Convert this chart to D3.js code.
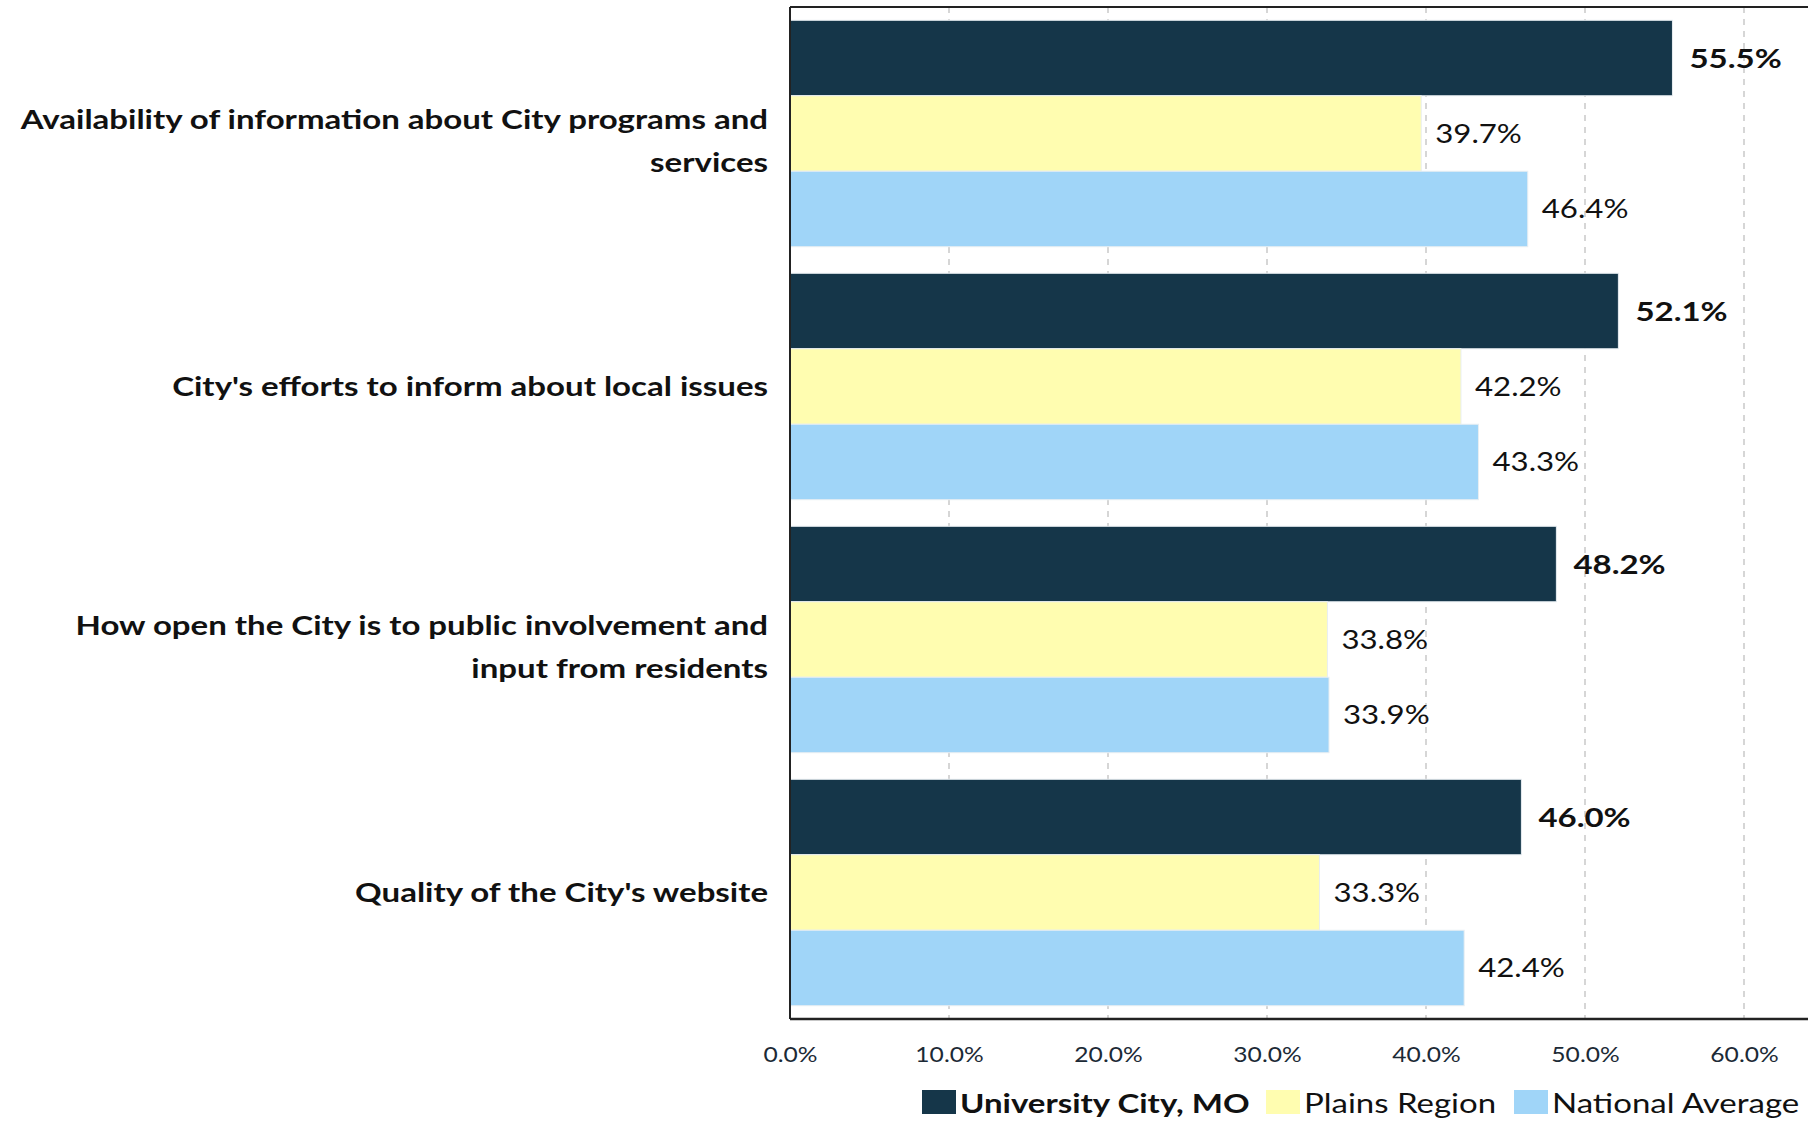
<!DOCTYPE html>
<html>
<head>
<meta charset="utf-8">
<script src="https://cdn.jsdelivr.net/npm/d3@7"></script>
<style>
  body { margin: 0; background: #fff; }
  svg { display: block; font-family: Lato, 'Open Sans', sans-serif; }
</style>
</head>
<body>
<script>
'use strict';

//chart values
var categories = [
  'Availability of information about City programs and services',
  "City's efforts to inform about local issues",
  'How open the City is to public involvement and input from residents',
  "Quality of the City's website"
];
//line breaks for the category labels
var categoryLines = [
  ['Availability of information about City programs and', 'services'],
  ["City's efforts to inform about local issues"],
  ['How open the City is to public involvement and', 'input from residents'],
  ["Quality of the City's website"]
];
var seriesNames = ['University City, MO', 'Plains Region', 'National Average'];
var universityCity = [55.5, 52.1, 48.2, 46.0];
var plainsRegion = [39.7, 42.2, 33.8, 33.3];
var nationalAverage = [46.4, 43.3, 33.9, 42.4];
var xTicks = [0, 10, 20, 30, 40, 50, 60];

var colors = ['#153649', '#FFFDB0', '#A0D5F8'];

var width = 1808;
var height = 1121;

var plot = {left: 790, top: 7, bottom: 1019, right: 1808};

//the original text is a bit wide, so every label gets stretched sideways
var stretch = 'scale(1.2,1)';

var series = [universityCity, plainsRegion, nationalAverage];

var svg = d3.select('body')
  .append('svg')
  .attr('width', width)
  .attr('height', height);

var x = d3.scaleLinear()
  .domain([0, 64])
  .range([plot.left, plot.left + 64 * 15.9]);

var y = d3.scaleBand()
  .domain(d3.range(categories.length))
  .range([plot.top, plot.bottom])
  .paddingInner(0.105)
  .paddingOuter(0.0525);

var ySub = d3.scaleBand()
  .domain(d3.range(series.length))
  .range([0, y.bandwidth()]);

//dashed gridlines
svg.append('g')
  .selectAll('line')
  .data(xTicks.slice(1))
  .enter()
  .append('line')
  .attr('x1', function(d) { return x(d); })
  .attr('x2', function(d) { return x(d); })
  .attr('y1', plot.top)
  .attr('y2', plot.bottom)
  .attr('stroke', '#c9c9c9')
  .attr('stroke-width', 1.5)
  .attr('stroke-dasharray', '6,6');

//bars, one group per category
var groups = svg.append('g')
  .selectAll('g')
  .data(categories)
  .enter()
  .append('g')
  .attr('transform', function(d, i) { return 'translate(0,' + y(i) + ')'; });

function rowValues(d, i) {
  return series.map(function(s, j) { return {s: j, v: s[i]}; });
}

groups.selectAll('rect')
  .data(rowValues)
  .enter()
  .append('rect')
  .attr('x', x(0))
  .attr('y', function(d) { return ySub(d.s); })
  .attr('width', function(d) { return x(d.v) - x(0); })
  .attr('height', ySub.bandwidth())
  .attr('fill', function(d) { return colors[d.s]; })
  .attr('stroke', '#e8eef2')
  .attr('stroke-width', 1);

//value labels, bold for the city itself
groups.selectAll('text')
  .data(rowValues)
  .enter()
  .append('text')
  .attr('transform', function(d) {
    var tx = x(d.v) + (d.s === 0 ? 17 : 14);
    var ty = ySub(d.s) + ySub.bandwidth() / 2;
    return 'translate(' + tx + ',' + ty + ')' + stretch;
  })
  .attr('dy', '0.35em')
  .style('font-size', function(d) { return d.s === 0 ? '27.5px' : '26px'; })
  .style('font-weight', function(d) { return d.s === 0 ? 'bold' : 'normal'; })
  .attr('fill', '#111')
  .text(function(d) { return d.v.toFixed(1) + '%'; });

//category labels
var lineGap = 43;
svg.append('g')
  .selectAll('text')
  .data(categoryLines)
  .enter()
  .append('text')
  .attr('text-anchor', 'end')
  .attr('transform', 'translate(' + (plot.left - 22) + ',0)' + stretch)
  .style('font-size', '27.5px')
  .style('font-weight', 'bold')
  .attr('fill', '#111')
  .each(function(lines, i) {
    var cy = y(i) + y.bandwidth() / 2;
    var start = cy - (lines.length - 1) * (lineGap / 2 - 7);
    d3.select(this).selectAll('tspan')
      .data(lines)
      .enter()
      .append('tspan')
      .attr('x', 0)
      .attr('y', function(l, k) { return start + k * lineGap; })
      .attr('dy', '0.35em')
      .text(function(l) { return l; });
  });

//frame: top border, left axis, bottom axis
svg.append('line')
  .attr('x1', plot.left).attr('x2', plot.right)
  .attr('y1', plot.top).attr('y2', plot.top)
  .attr('stroke', '#222').attr('stroke-width', 2);

svg.append('line')
  .attr('x1', plot.left).attr('x2', plot.left)
  .attr('y1', plot.top).attr('y2', plot.bottom)
  .attr('stroke', '#222').attr('stroke-width', 2);

var xAxis = d3.axisBottom(x)
  .tickValues(xTicks)
  .tickSize(0)
  .tickPadding(28)
  .tickFormat(function(d) { return d.toFixed(1) + '%'; });

var axisG = svg.append('g')
  .attr('transform', 'translate(0,' + plot.bottom + ')')
  .call(xAxis);

axisG.select('.domain')
  .attr('d', 'M' + plot.left + ',0H' + plot.right)
  .attr('stroke', '#222')
  .attr('stroke-width', 2.5);

axisG.selectAll('text')
  .attr('transform', stretch)
  .style('font-family', 'Lato, sans-serif')
  .style('font-size', '20.5px')
  .attr('fill', '#1c2a36');

//legend
var legendX = [922, 1266, 1514];
var legend = svg.append('g')
  .selectAll('g')
  .data(seriesNames)
  .enter()
  .append('g')
  .attr('transform', function(d, i) { return 'translate(' + legendX[i] + ',1103)'; });

legend.append('rect')
  .attr('x', 0)
  .attr('y', -13)
  .attr('width', 34)
  .attr('height', 24)
  .attr('fill', function(d, i) { return colors[i]; });

legend.append('text')
  .attr('transform', 'translate(38,0)' + stretch)
  .attr('dy', '0.35em')
  .style('font-size', '27.5px')
  .style('font-weight', function(d, i) { return i === 0 ? 'bold' : 'normal'; })
  .attr('fill', '#111')
  .text(function(d) { return d; });
</script>
</body>
</html>
